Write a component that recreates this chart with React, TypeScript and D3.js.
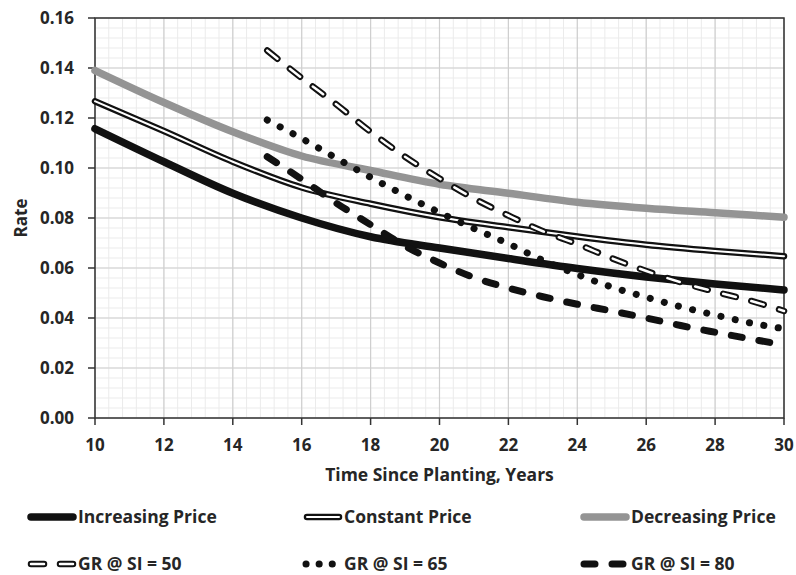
import { useEffect, useRef } from 'react'
import * as d3 from 'd3'

// price scenarios, read every 2 years
const priceYears = [10, 12, 14, 16, 18, 20, 22, 24, 26, 28, 30]
const increasingPrice = [0.1157, 0.1025, 0.0899, 0.08, 0.0725, 0.068, 0.0638, 0.0598, 0.0564, 0.0536, 0.0512]
const constantPrice = [0.1267, 0.1148, 0.1025, 0.0922, 0.0857, 0.0803, 0.0763, 0.0726, 0.0693, 0.0668, 0.0647]
const decreasingPrice = [0.139, 0.1262, 0.1145, 0.1048, 0.099, 0.0935, 0.0899, 0.0863, 0.0839, 0.0821, 0.0803]

// growth rate by site index, yearly from 15
const grYears = [15, 16, 17, 18, 19, 20, 21, 22, 23, 24, 25, 26, 27, 28, 29, 30]
const gr50 = [0.147, 0.136, 0.1255, 0.1145, 0.1045, 0.0958, 0.0878, 0.081, 0.0747, 0.0696, 0.0639, 0.0588, 0.0543, 0.0505, 0.047, 0.0428]
const gr65 = [0.1192, 0.1118, 0.104, 0.0963, 0.089, 0.0822, 0.0758, 0.0697, 0.0631, 0.0574, 0.0524, 0.0483, 0.0445, 0.0412, 0.0381, 0.0357]
const gr80 = [0.1045, 0.0955, 0.086, 0.0773, 0.0688, 0.062, 0.0562, 0.052, 0.0485, 0.0455, 0.0428, 0.04, 0.037, 0.0343, 0.0317, 0.0292]

const xTicks = [10, 12, 14, 16, 18, 20, 22, 24, 26, 28, 30]
const yTicks = [0, 0.02, 0.04, 0.06, 0.08, 0.1, 0.12, 0.14, 0.16]

const FONT = '"Open Sans", Lato, sans-serif'
const INK = '#262626'

type Style = 'thick' | 'double' | 'gray' | 'outlinedDash' | 'dots' | 'dash'

const series: { name: string; xs: number[]; ys: number[]; style: Style }[] = [
  { name: 'Increasing Price', xs: priceYears, ys: increasingPrice, style: 'thick' },
  { name: 'Constant Price', xs: priceYears, ys: constantPrice, style: 'double' },
  { name: 'Decreasing Price', xs: priceYears, ys: decreasingPrice, style: 'gray' },
  { name: 'GR @ SI = 50', xs: grYears, ys: gr50, style: 'outlinedDash' },
  { name: 'GR @ SI = 65', xs: grYears, ys: gr65, style: 'dots' },
  { name: 'GR @ SI = 80', xs: grYears, ys: gr80, style: 'dash' },
]

function stroke(sel: d3.Selection<SVGPathElement, unknown, null, undefined>, style: Style, layer: number, legend = false) {
  sel.attr('fill', 'none').attr('stroke-linecap', 'round').attr('stroke-linejoin', 'round')
  if (style === 'thick') sel.attr('stroke', '#111').attr('stroke-width', 7.5)
  if (style === 'gray') sel.attr('stroke', '#949494').attr('stroke-width', 7.5)
  if (style === 'double') sel.attr('stroke', layer ? '#fff' : '#111').attr('stroke-width', layer ? 2 : 6.5)
  if (style === 'outlinedDash')
    sel.attr('stroke', layer ? '#fff' : '#111').attr('stroke-width', layer ? 2.5 : 6.5).attr('stroke-dasharray', '13 16')
  if (style === 'dots')
    sel.attr('stroke', '#111').attr('stroke-width', 7).attr('stroke-dasharray', legend ? '0.1 13' : '0.1 14.5')
  if (style === 'dash') sel.attr('stroke', '#111').attr('stroke-width', 7).attr('stroke-dasharray', '11 17')
}

export default function App() {
  const ref = useRef<SVGSVGElement | null>(null)

  useEffect(() => {
    const el = ref.current
    if (!el) return
    const svg = d3.select(el)
    svg.selectAll('*').remove()

    const m = { left: 95, right: 784, top: 18, bottom: 418 }
    const x = d3.scaleLinear().domain([10, 30]).range([m.left, m.right])
    const y = d3.scaleLinear().domain([0, 0.16]).range([m.bottom, m.top])

    // minor grid
    const minorX = d3.range(10, 30.001, 0.4)
    const minorY = d3.range(0, 0.16001, 0.004)
    const grid = svg.append('g')
    grid.selectAll('line.mx').data(minorX).join('line')
      .attr('x1', d => x(d)).attr('x2', d => x(d)).attr('y1', m.top).attr('y2', m.bottom)
      .attr('stroke', '#ebebeb').attr('stroke-width', 1)
    grid.selectAll('line.my').data(minorY).join('line')
      .attr('x1', m.left).attr('x2', m.right).attr('y1', d => y(d)).attr('y2', d => y(d))
      .attr('stroke', '#ebebeb').attr('stroke-width', 1)
    grid.selectAll('line.gx').data(xTicks).join('line')
      .attr('x1', d => x(d)).attr('x2', d => x(d)).attr('y1', m.top).attr('y2', m.bottom)
      .attr('stroke', '#cfcfcf').attr('stroke-width', 1.2)
    grid.selectAll('line.gy').data(yTicks).join('line')
      .attr('x1', m.left).attr('x2', m.right).attr('y1', d => y(d)).attr('y2', d => y(d))
      .attr('stroke', '#cfcfcf').attr('stroke-width', 1.2)

    // frame + ticks
    svg.append('rect').attr('x', m.left).attr('y', m.top)
      .attr('width', m.right - m.left).attr('height', m.bottom - m.top)
      .attr('fill', 'none').attr('stroke', '#333').attr('stroke-width', 1.5)
    svg.append('g').selectAll('line').data(yTicks).join('line')
      .attr('x1', m.left - 7).attr('x2', m.left).attr('y1', d => y(d)).attr('y2', d => y(d))
      .attr('stroke', '#333').attr('stroke-width', 1.5)
    svg.append('g').selectAll('line').data(xTicks).join('line')
      .attr('x1', d => x(d)).attr('x2', d => x(d)).attr('y1', m.bottom).attr('y2', m.bottom + 7)
      .attr('stroke', '#333').attr('stroke-width', 1.5)

    svg.append('g').selectAll('text').data(yTicks).join('text')
      .attr('x', 74).attr('y', d => y(d) + 6)
      .attr('text-anchor', 'end').attr('font-family', FONT).attr('font-weight', 700)
      .attr('font-size', 17).attr('fill', INK)
      .text(d => d3.format('.2f')(d))
    svg.append('g').selectAll('text').data(xTicks).join('text')
      .attr('x', d => x(d)).attr('y', 451)
      .attr('text-anchor', 'middle').attr('font-family', FONT).attr('font-weight', 700)
      .attr('font-size', 17).attr('fill', INK)
      .text(d => String(d))

    svg.append('text').attr('x', (m.left + m.right) / 2).attr('y', 481)
      .attr('text-anchor', 'middle').attr('font-family', FONT).attr('font-weight', 700)
      .attr('font-size', 17.5).attr('fill', INK).text('Time Since Planting, Years')
    svg.append('text').attr('transform', `translate(27,${(m.top + m.bottom) / 2}) rotate(-90)`)
      .attr('text-anchor', 'middle').attr('font-family', FONT).attr('font-weight', 700)
      .attr('font-size', 17).attr('fill', INK).text('Rate')

    // series
    const line = d3.line<[number, number]>().x(d => x(d[0])).y(d => y(d[1])).curve(d3.curveMonotoneX)
    const layered = (s: Style) => (s === 'double' || s === 'outlinedDash' ? [0, 1] : [0])
    series.forEach(s => {
      const pts = s.xs.map((v, i) => [v, s.ys[i]] as [number, number])
      layered(s.style).forEach(layer => {
        stroke(svg.append('path').attr('d', line(pts) ?? ''), s.style, layer)
      })
    })

    // legend: 3 columns x 2 rows, sample swatch then label
    const cols = [27, 303, 580]
    const swatchW = [50, 40, 50]
    const rows = [517, 564]
    const sample = d3.line<number>().x(d => d).y(0)
    series.forEach((s, i) => {
      const c = i % 3
      const w = swatchW[c]
      const g = svg.append('g').attr('transform', `translate(${cols[c]},${rows[Math.floor(i / 3)]})`)
      const span = s.style === 'dots' ? [3, w - 1] : s.style === 'outlinedDash' || s.style === 'dash' ? [4, w - 2] : [4, w - 4]
      layered(s.style).forEach(layer => {
        stroke(g.append('path').attr('d', sample(span) ?? ''), s.style, layer, true)
      })
      g.append('text').attr('x', w + 1).attr('y', 6)
        .attr('font-family', FONT).attr('font-weight', 700).attr('font-size', 17.5)
        .attr('fill', INK).text(s.name)
    })
  }, [])

  return <svg ref={ref} width={796} height={575} style={{ position: 'absolute', left: 0, top: 0, background: '#fff' }} />
}
